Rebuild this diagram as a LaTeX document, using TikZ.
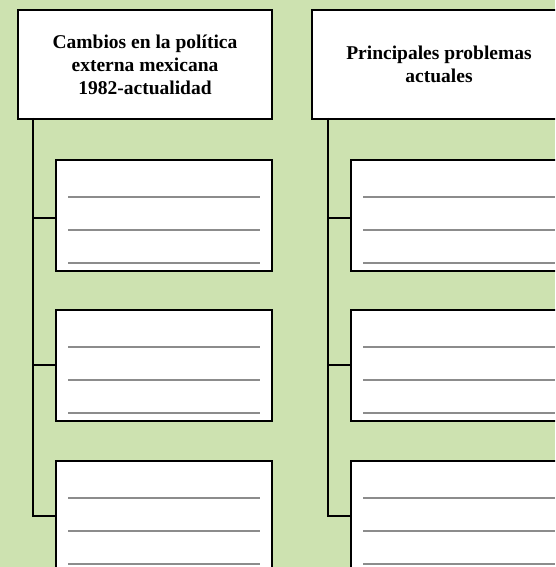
\documentclass[tikz,border=0pt]{standalone}
\usepackage{fontspec}
\setmainfont{Liberation Serif}
\usetikzlibrary{calc}
\definecolor{bggreen}{HTML}{CDE2B0}
\definecolor{rulegray}{HTML}{8C8C8C}
\begin{document}
\begin{tikzpicture}[x=1pt,y=-1pt,
  headbox/.style={draw=black,line width=2pt,fill=white,anchor=north west,inner sep=0pt,
    align=center,font=\bfseries\fontsize{19.5}{23}\selectfont},
  subbox/.style={draw=black,line width=2pt,fill=white,anchor=north west,inner sep=0pt,
    minimum width=216pt,minimum height=111pt},
  conn/.style={draw=black,line width=1.8pt},
  wline/.style={draw=rulegray,line width=1.5pt}]
\useasboundingbox (0,0) rectangle (555,567);
\clip (0,0) rectangle (555,567);
\fill[bggreen] (0,0) rectangle (555,567);
% left column
\node[headbox,minimum width=254pt,minimum height=109pt] (h1) at (17,9)
  {Cambios en la política\\externa mexicana\\1982-actualidad};
\node[subbox] (a1) at (55,159) {};
\node[subbox] (a2) at (55,309) {};
\node[subbox] (a3) at (55,460) {};
\coordinate (c1) at (33,118);
\draw[conn] (c1) |- ($(a3.north west)+(0,56)$);
\draw[conn] ($(c1 |- a1.north west)+(0,59)$) -- ($(a1.north west)+(0,59)$);
\draw[conn] ($(c1 |- a2.north west)+(0,56)$) -- ($(a2.north west)+(0,56)$);
% right column
\node[headbox,minimum width=254pt,minimum height=109pt] (h2) at (311,9)
  {Principales problemas\\actuales};
\node[subbox] (b1) at (350,159) {};
\node[subbox] (b2) at (350,309) {};
\node[subbox] (b3) at (350,460) {};
\coordinate (c2) at (328,118);
\draw[conn] (c2) |- ($(b3.north west)+(0,56)$);
\draw[conn] ($(c2 |- b1.north west)+(0,59)$) -- ($(b1.north west)+(0,59)$);
\draw[conn] ($(c2 |- b2.north west)+(0,56)$) -- ($(b2.north west)+(0,56)$);
% writing lines
\foreach \n in {a1,a2,a3,b1,b2,b3}{
  \foreach \d in {38,71,104}{
    \draw[wline] ($(\n.north west)+(13,\d)$) -- ($(\n.north east)+(-13,\d)$);
  }
}
\end{tikzpicture}
\end{document}
